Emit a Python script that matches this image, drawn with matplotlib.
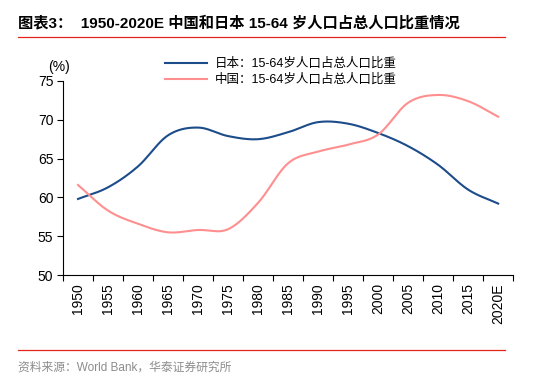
import numpy as np
import matplotlib
matplotlib.use("Agg")
import matplotlib.pyplot as plt

plt.rcParams['font.family'] = ['Liberation Sans', 'Noto Sans CJK SC', 'DejaVu Sans']

# ------------------------------------------------------------------
# Data
# ------------------------------------------------------------------
years = ['1950', '1955', '1960', '1965', '1970', '1975', '1980', '1985',
         '1990', '1995', '2000', '2005', '2010', '2015', '2020E']
japan = [59.8, 61.3, 64.0, 68.0, 69.0, 67.9, 67.5, 68.4,
         69.7, 69.5, 68.3, 66.6, 64.2, 61.0, 59.2]
china = [61.6, 58.3, 56.6, 55.5, 55.8, 55.9, 59.3, 64.4,
         65.9, 66.8, 68.1, 72.2, 73.2, 72.4, 70.4]

label_japan = '日本：15-64岁人口占总人口比重'
label_china = '中国：15-64岁人口占总人口比重'


# smoothed line like the spreadsheet's "smooth line" option
def smooth(xs, ys, n=20):
    xs = np.asarray(xs, float)
    ys = np.asarray(ys, float)
    px = np.concatenate([[2 * xs[0] - xs[1]], xs, [2 * xs[-1] - xs[-2]]])
    py = np.concatenate([[2 * ys[0] - ys[1]], ys, [2 * ys[-1] - ys[-2]]])
    out_x, out_y = [], []
    t = np.linspace(0, 1, n, endpoint=False)
    for i in range(1, len(px) - 2):
        for arr, out in ((px, out_x), (py, out_y)):
            p0, p1, p2, p3 = arr[i - 1], arr[i], arr[i + 1], arr[i + 2]
            out.extend(0.5 * ((2 * p1) + (-p0 + p2) * t
                              + (2 * p0 - 5 * p1 + 4 * p2 - p3) * t ** 2
                              + (-p0 + 3 * p1 - 3 * p2 + p3) * t ** 3))
    out_x.append(xs[-1])
    out_y.append(ys[-1])
    return np.array(out_x), np.array(out_y)


fig = plt.figure(figsize=(5.45, 3.87), dpi=100)
ax = fig.add_axes([0.1156, 0.2894, 0.826, 0.5013])

x = np.arange(len(years))
jx, jy = smooth(x, japan)
cx, cy = smooth(x, china)
ax.plot(jx, jy, color='#1C4C8A', linewidth=1.5, label=label_japan)
ax.plot(cx, cy, color='#FF8F8F', linewidth=1.5, label=label_china)

ax.set_xlim(-0.5, len(years) - 0.5)
ax.set_ylim(50, 75)
ax.set_yticks(range(50, 76, 5))
ax.set_xticks(x)
ax.set_xticklabels(years, rotation=90)
ax.set_xticks(np.arange(-0.5, len(years), 1), minor=True)
ax.tick_params(axis='x', which='major', length=0, pad=6, labelsize=10)
ax.tick_params(axis='x', which='minor', length=4, direction='out', width=0.8)
ax.tick_params(axis='y', length=4, direction='out', width=0.8, labelsize=10, pad=3)

for side in ['top', 'right']:
    ax.spines[side].set_visible(False)
for side in ['left', 'bottom']:
    ax.spines[side].set_linewidth(0.8)

fig.text(0.089, 0.826, '(%)', fontsize=10, ha='left', va='center')

ax.legend(loc='upper left', bbox_to_anchor=(0.215, 1.145), frameon=False,
          fontsize=9, handlelength=3.4, handletextpad=0.6, labelspacing=0.3,
          borderaxespad=0)

# title, separators and source
fig.text(0.033, 0.94, '图表3：  1950-2020E 中国和日本 15-64 岁人口占总人口比重情况',
         fontsize=11, fontweight='bold', ha='left', va='center')
fig.add_artist(plt.Line2D([0.033, 0.927], [0.905, 0.905], color='#E3261B', linewidth=0.9))
fig.add_artist(plt.Line2D([0.033, 0.927], [0.095, 0.095], color='#E3261B', linewidth=0.9))
fig.text(0.033, 0.05, '资料来源：World Bank，华泰证券研究所', fontsize=8.5,
         color='#8C8C8C', ha='left', va='center')

fig.savefig('out.png', dpi=100)
